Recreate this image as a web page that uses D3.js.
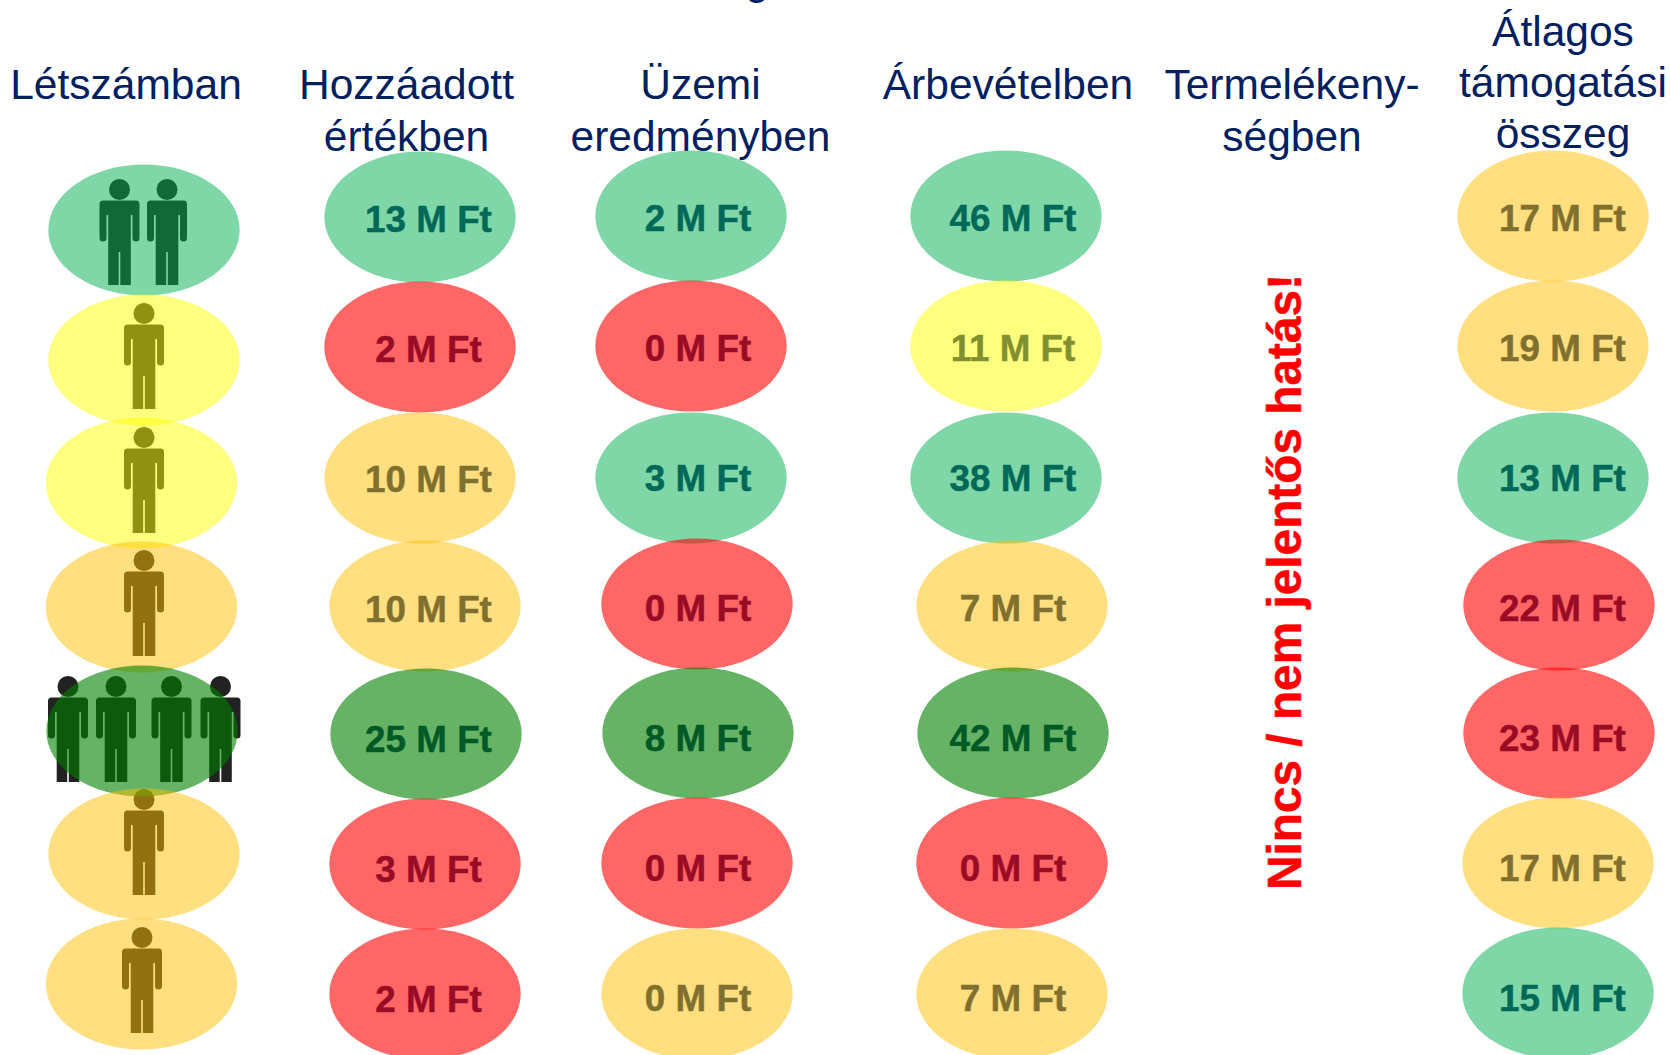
<!DOCTYPE html>
<html>
<head>
<meta charset="utf-8">
<script src="https://cdnjs.cloudflare.com/ajax/libs/d3/7.8.5/d3.min.js"></script>
<style>
  html, body { margin: 0; padding: 0; background: #fff; }
  svg { display: block; }
  text { font-family: "Liberation Sans", Arial, sans-serif; }
</style>
</head>
<body>
<div id="chart"></div>
<script>
// Values
var rows = [1, 2, 3, 4, 5, 6, 7]
var people = [2, 1, 1, 1, 4, 1, 1]
var peopleLevel = ["good", "ok", "ok", "mid", "best", "mid", "mid"]

var addedValue = [13, 2, 10, 10, 25, 3, 2]
var addedLevel = ["good", "bad", "mid", "mid", "best", "bad", "bad"]
var operating = [2, 0, 3, 0, 8, 0, 0]
var operatingLevel = ["good", "bad", "good", "bad", "best", "bad", "mid"]
var revenue = [46, 11, 38, 7, 42, 0, 7]
var revenueLevel = ["good", "ok", "good", "mid", "best", "bad", "mid"]
var support = [17, 19, 13, 22, 23, 17, 15]
var supportLevel = ["mid", "mid", "good", "bad", "bad", "mid", "good"]

var headers = [
  ["Létszámban"],
  ["Hozzáadott", "értékben"],
  ["Üzemi", "eredményben"],
  ["Árbevételben"],
  ["Termelékeny-", "ségben"],
  ["Átlagos", "támogatási", "összeg"]
]
var noEffect = "Nincs / nem jelentős hatás!"

var width = 1670, height = 1055

var svg = d3.select("#chart").append("svg")
    .attr("width", width)
    .attr("height", height)

var colour = d3.scaleOrdinal()
    .domain(["best", "good", "ok", "mid", "bad"])
    .range(["#008000", "#00b050", "#ffff00", "#ffc000", "#ff0000"])
var alpha = d3.scaleOrdinal()
    .domain(["best", "good", "ok", "mid", "bad"])
    .range([0.6, 0.5, 0.5, 0.5, 0.6])

var navy = "#002060"
var rx = 95.7, ry = 65.5

// row scale for the text, the ovals are placed by hand a bit off it on the slide
var y = d3.scalePoint().domain(rows).range([218, 998])

// headers
var headerX = [126, 406.5, 700.5, 1008, 1292, 1563]
var headerY = [99, 99, 99, 99, 99, 46]
var headerPitch = [51.5, 51.5, 51.5, 51.5, 51.5, 51]
headers.forEach(function (lines, i) {
  svg.append("text")
      .attr("text-anchor", "middle")
      .attr("fill", navy)
      .attr("font-size", 42.5)
    .selectAll("tspan")
    .data(lines)
    .enter().append("tspan")
      .attr("x", headerX[i])
      .attr("y", function (d, j) { return headerY[i] + j * headerPitch[i] })
      .text(function (d) { return d })
})

// cut off title at the top edge, only a descender shows
svg.append("text")
    .attr("x", 757).attr("y", -6)
    .attr("text-anchor", "middle")
    .attr("fill", navy)
    .attr("font-size", 42.5)
    .text("g")

// people icon, drawn around its head top centre
function person(g, x0, y0) {
  g = g.append("g").attr("transform", "translate(" + x0 + "," + y0 + ")")
  g.append("circle").attr("cx", 0).attr("cy", 10.5).attr("r", 10.5).attr("fill", "#222")
  g.append("path")
      .attr("fill", "#222")
      .attr("d", "M-16.5,21.5H16.5Q20,21.5 20,25V59Q20,62.5 16.5,62.5Q13,62.5 13,59V36H11.3V106H0.8V73H-0.8V106H-11.3V36H-13V59Q-13,62.5 -16.5,62.5Q-20,62.5 -20,59V25Q-20,21.5 -16.5,21.5Z")
}

var iconX = [[119.5, 167], [144], [144], [144], [68, 116, 171.5, 220.5], [144], [142]]
var iconTop = [179, 303, 427, 550, 676, 789, 927]

var icons = svg.append("g")
people.forEach(function (n, i) {
  d3.range(n).forEach(function (k) {
    person(icons, iconX[i][k], iconTop[i])
  })
})

// value texts go under the ovals, that is where their colour comes from
var valueColumns = [
  {values: addedValue, levels: addedLevel, textX: 428.5, dy: 1,
   ovalX: [420, 420, 420, 425, 426, 425, 425], ovalY: [217, 347, 478, 606, 734, 864, 994]},
  {values: operating, levels: operatingLevel, textX: 698, dy: 0,
   ovalX: [691, 691, 691, 697, 698, 697, 697], ovalY: [216, 346, 478, 604, 733, 863, 994]},
  {values: revenue, levels: revenueLevel, textX: 1013, dy: 0,
   ovalX: [1006, 1006, 1006, 1012, 1013, 1012, 1012], ovalY: [216, 346, 478, 606, 733, 863, 994]},
  {values: support, levels: supportLevel, textX: 1562.5, dy: 0,
   ovalX: [1553, 1553, 1553, 1559, 1559, 1558, 1558], ovalY: [216, 346, 478, 605, 733, 863, 993]}
]

valueColumns.forEach(function (col) {
  svg.append("g").selectAll("text")
    .data(col.values)
    .enter().append("text")
      .attr("x", col.textX)
      .attr("y", function (d, i) { return y(rows[i]) + col.dy + 13 })
      .attr("text-anchor", "middle")
      .attr("fill", navy)
      .attr("stroke", navy)
      .attr("stroke-width", 0.5)
      .attr("font-size", 36.8)
      .attr("font-weight", "bold")
      .text(function (d) { return d + " M Ft" })
})

// ovals
var peopleOvalX = [144, 144, 141.5, 141.5, 142, 144, 141.5]
var peopleOvalY = [230, 360, 483, 607, 731, 854, 984]

function ovals(xs, ys, levels) {
  svg.append("g").selectAll("ellipse")
    .data(levels)
    .enter().append("ellipse")
      .attr("cx", function (d, i) { return xs[i] })
      .attr("cy", function (d, i) { return ys[i] })
      .attr("rx", rx)
      .attr("ry", ry)
      .attr("fill", function (d) { return colour(d) })
      .attr("fill-opacity", function (d) { return alpha(d) })
}

ovals(peopleOvalX, peopleOvalY, peopleLevel)
valueColumns.forEach(function (col) {
  ovals(col.ovalX, col.ovalY, col.levels)
})

// vertical note in the productivity column
svg.append("text")
    .attr("transform", "translate(1301,582) rotate(-90)")
    .attr("text-anchor", "middle")
    .attr("fill", "#ff0000")
    .attr("stroke", "#ff0000")
    .attr("stroke-width", 0.5)
    .attr("font-size", 47.8)
    .attr("font-weight", "bold")
    .text(noEffect)
</script>
</body>
</html>
